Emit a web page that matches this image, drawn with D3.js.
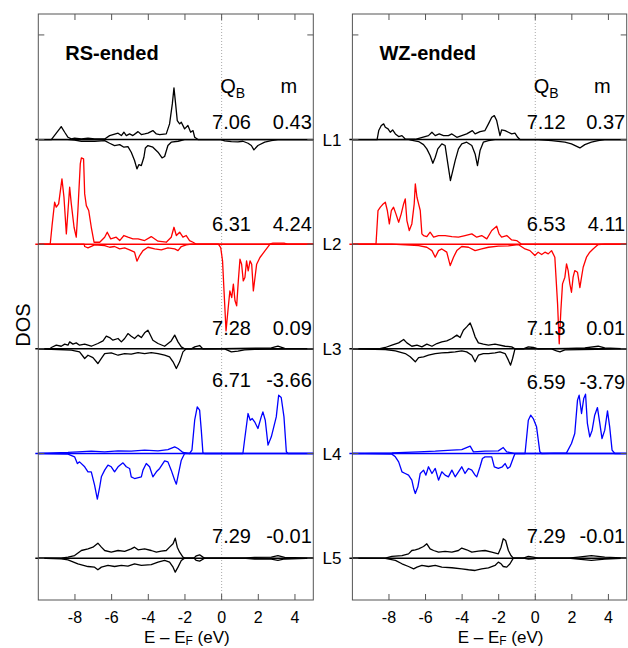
<!DOCTYPE html>
<html><head><meta charset="utf-8">
<script src="https://cdn.jsdelivr.net/npm/d3@7"></script>
<style>body{margin:0;background:#fff} text{font-family:"Liberation Sans",Arial,Helvetica,sans-serif;fill:#000}</style>
</head><body><svg id="c" width="628" height="648"></svg>
<script>
// ---------------- data ----------------
const layers = ["L1","L2","L3","L4","L5"];
const xTicks = [-8,-6,-4,-2,0,2,4];
const yTicks = [0,10,20,30,40,50];
const rsQB = ["7.06","6.31","7.28","6.71","7.29"];
const rsM  = ["0.43","4.24","0.09","-3.66","-0.01"];
const wzQB = ["7.12","6.53","7.13","6.59","7.29"];
const wzM  = ["0.37","4.11","0.01","-3.79","-0.01"];

// RS-ended, [E (eV), DOS] pairs, spin up (>0) and spin down (<0)
const rsL1Up = [[-10,0],[-9.29,0],[-8.84,1.02],[-8.75,1.24],[-8.56,0.7],[-8.38,0.22],[-8.2,0.06],[-8.02,0.13],[-7.65,0.06],[-7.29,0.13],[-6.93,0.06],[-6.38,0.06],[-6.11,0.38],[-5.65,0.61],[-5.47,0.38],[-5.33,0.7],[-5.2,0.38],[-5.02,0.54],[-4.84,0.38],[-4.56,0.76],[-4.38,0.48],[-4.2,0.54],[-4.02,0.61],[-3.75,0.86],[-3.56,0.54],[-3.38,0.48],[-3.02,0.54],[-2.84,1.5],[-2.69,3.41],[-2.6,4.94],[-2.51,3.41],[-2.42,1.82],[-2.29,1.5],[-2.2,1.66],[-2.02,1.02],[-1.84,1.34],[-1.69,0.7],[-1.56,0.86],[-1.47,0.22],[-1.29,0],[5,0]];
const rsL1Dn = [[-10,0],[-8.4,0],[-8.02,-0.06],[-7.65,-0.16],[-6.93,-0.16],[-6.38,-0.1],[-6.11,-0.35],[-5.84,-0.57],[-5.56,-0.48],[-5.33,-0.73],[-5.11,-0.67],[-4.93,-1.21],[-4.75,-2.0],[-4.62,-2.8],[-4.51,-2.39],[-4.38,-2.48],[-4.24,-1.69],[-4.16,-0.8],[-4.02,-0.57],[-3.75,-0.73],[-3.47,-1.21],[-3.25,-1.75],[-3.11,-1.62],[-2.93,-0.57],[-2.75,-0.25],[-2.38,-0.16],[-2.02,0],[-0.02,0],[0.16,-0.13],[0.53,-0.19],[0.89,-0.22],[1.16,-0.16],[1.44,-0.35],[1.62,-0.57],[1.76,-0.99],[1.98,-0.57],[2.35,-0.25],[2.71,-0.1],[3.07,0],[5,0]];
const rsL2Up = [[-10,0],[-9.35,0],[-9.25,1.78],[-9.11,4.01],[-9.02,3.54],[-8.89,3.85],[-8.71,6.24],[-8.6,4.49],[-8.47,0.99],[-8.38,3.22],[-8.29,5.45],[-8.2,3.85],[-8.05,1.62],[-7.93,0.67],[-7.84,3.22],[-7.71,7.68],[-7.65,8.25],[-7.53,8.15],[-7.47,4.81],[-7.38,3.69],[-7.25,3.22],[-7.11,1.62],[-6.96,0.19],[-6.65,0.19],[-6.38,0.67],[-6.24,1.15],[-6.05,0.51],[-5.75,0.67],[-5.56,0.35],[-5.33,0.83],[-5.11,0.67],[-4.84,0.51],[-4.56,0.51],[-4.2,0.35],[-3.84,0.73],[-3.47,0.29],[-3.02,0.19],[-2.75,0.67],[-2.6,1.62],[-2.47,0.83],[-2.29,1.15],[-2.11,0.67],[-1.93,0.83],[-1.75,0.35],[-1.56,0.19],[-1.38,0],[2.6,0],[2.8,0.1],[3.4,0.1],[3.6,0],[5,0]];
const rsL2Dn = [[-10,0],[-7.5,0],[-7.47,-0.22],[-7.29,-0.35],[-6.93,-0.06],[-6.38,-0.13],[-6.11,-0.29],[-5.84,-0.22],[-5.56,-0.45],[-5.29,-0.35],[-5.02,-0.54],[-4.75,-0.76],[-4.62,-1.62],[-4.47,-1.08],[-4.29,-0.61],[-4.02,-0.29],[-3.65,-0.45],[-3.29,-0.54],[-2.93,-0.35],[-2.56,-0.45],[-2.38,-0.61],[-2.2,-0.22],[-1.93,-0.06],[-1.65,0],[-0.18,0],[-0.05,-0.32],[0.05,-1.59],[0.13,-4.46],[0.24,-8.28],[0.36,-6.05],[0.45,-4.46],[0.55,-5.1],[0.64,-3.82],[0.73,-5.41],[0.82,-5.89],[0.91,-3.5],[1.0,-1.43],[1.09,-1.91],[1.18,-3.5],[1.27,-3.18],[1.36,-1.59],[1.45,-2.55],[1.55,-1.59],[1.64,-1.91],[1.73,-4.46],[1.82,-3.18],[1.91,-1.91],[2.09,-1.27],[2.36,-0.64],[2.64,0],[5,0]];
const rsL3Up = [[-10,0],[-9.35,0],[-9.29,0.13],[-9.02,0.35],[-8.75,0.25],[-8.56,0.45],[-8.38,0.35],[-8.29,0.67],[-8.11,0.45],[-7.93,0.57],[-7.75,0.35],[-7.47,0.45],[-7.11,0.25],[-6.75,0.51],[-6.47,0.76],[-6.29,1.21],[-6.11,1.08],[-5.93,0.83],[-5.65,0.99],[-5.47,0.67],[-5.29,0.99],[-5.11,1.46],[-4.93,1.21],[-4.75,0.99],[-4.56,1.31],[-4.38,1.08],[-4.2,1.53],[-4.02,1.78],[-3.93,1.46],[-3.75,0.83],[-3.47,0.51],[-3.11,0.25],[-2.75,0.76],[-2.56,1.31],[-2.38,0.67],[-2.2,0.19],[-2.02,0],[-1.65,0],[-1.47,0.19],[-1.2,0.32],[-1.02,0],[0.89,0.05],[2.71,0.1],[3.07,0.25],[3.44,0.05],[5,0]];
const rsL3Dn = [[-10,0],[-8.93,-0.06],[-8.2,-0.13],[-7.75,-0.29],[-7.47,-0.92],[-7.29,-0.61],[-7.02,-0.83],[-6.75,-1.4],[-6.56,-0.92],[-6.38,-0.45],[-6.02,-0.38],[-5.65,-0.61],[-5.29,-0.45],[-4.93,-0.51],[-4.56,-0.35],[-4.2,-0.45],[-3.84,-0.35],[-3.47,-0.45],[-3.11,-0.61],[-2.84,-0.76],[-2.65,-1.24],[-2.47,-1.88],[-2.29,-1.24],[-2.11,-0.29],[-1.93,0],[0.16,0],[0.53,-0.29],[0.89,-0.22],[1.25,-0.1],[1.8,-0.05],[5,0]];
const rsL4Up = [[-10,0],[-8.38,0.1],[-7.84,0.16],[-7.11,0.22],[-6.38,0.16],[-5.65,0.25],[-4.93,0.22],[-4.2,0.32],[-3.47,0.25],[-2.93,0.38],[-2.56,0.64],[-2.38,0.48],[-2.11,0.1],[-1.75,0],[-1.62,0.32],[-1.47,3.18],[-1.33,4.46],[-1.2,4.14],[-1.11,2.23],[-1.02,0.06],[-0.93,0],[1.16,0],[1.25,1.27],[1.44,3.82],[1.56,3.18],[1.67,3.34],[1.8,3.03],[1.98,2.39],[2.16,3.5],[2.25,3.98],[2.38,3.18],[2.53,0.8],[2.71,1.59],[2.98,3.5],[3.11,5.57],[3.25,5.35],[3.4,3.5],[3.53,0.16],[3.62,0],[5,0]];
const rsL4Dn = [[-10,0],[-8.38,-0.06],[-8.02,-0.32],[-7.87,-0.96],[-7.75,-0.8],[-7.47,-1.27],[-7.29,-1.75],[-7.11,-1.75],[-6.93,-3.03],[-6.78,-4.36],[-6.65,-3.18],[-6.56,-2.23],[-6.38,-1.59],[-6.2,-1.11],[-6.02,-1.27],[-5.84,-1.75],[-5.65,-1.27],[-5.38,-0.89],[-5.2,-1.27],[-5.02,-1.43],[-4.93,-2.23],[-4.75,-2.39],[-4.38,-2.23],[-4.29,-1.59],[-4.11,-0.96],[-3.93,-1.27],[-3.75,-2.23],[-3.56,-1.75],[-3.38,-1.43],[-3.11,-0.7],[-2.93,-0.8],[-2.75,-1.59],[-2.56,-2.55],[-2.47,-2.93],[-2.35,-1.91],[-2.2,-0.64],[-2.02,0],[5,0]];
const rsL5Up = [[-10,0],[-8.75,0],[-8.38,0.1],[-8.02,0.25],[-7.65,0.73],[-7.29,0.89],[-7.02,1.05],[-6.75,1.43],[-6.56,1.05],[-6.38,0.73],[-6.02,0.57],[-5.65,0.73],[-5.29,0.64],[-4.93,0.89],[-4.75,1.05],[-4.56,0.8],[-4.2,0.89],[-3.84,0.73],[-3.56,0.57],[-3.29,0.67],[-3.02,0.73],[-2.84,1.05],[-2.65,1.37],[-2.53,1.91],[-2.42,1.05],[-2.29,0.57],[-2.11,0.1],[-2.02,0],[-1.51,0],[-1.38,0.22],[-1.2,0.32],[-1.02,0.1],[-0.93,0],[1.16,0],[1.8,0.08],[2.71,0.1],[3.07,0.25],[3.44,0.08],[5,0]];
const rsL5Dn = [[-10,0],[-8.75,-0.06],[-8.38,-0.16],[-7.84,-0.54],[-7.29,-0.8],[-6.93,-0.86],[-6.75,-1.11],[-6.56,-0.86],[-6.2,-0.7],[-5.84,-0.8],[-5.47,-0.7],[-5.11,-0.76],[-4.75,-0.54],[-4.38,-0.7],[-3.84,-0.61],[-3.47,-0.38],[-3.11,-0.22],[-2.84,-0.38],[-2.65,-0.86],[-2.53,-1.34],[-2.38,-0.86],[-2.2,-0.22],[-2.02,0],[-1.51,0],[-1.38,-0.22],[-1.2,-0.29],[-1.02,-0.1],[-0.93,0],[1.16,0],[1.8,-0.08],[2.71,-0.1],[3.07,-0.22],[3.44,-0.08],[5,0]];

// WZ-ended
const wzL1Up = [[-10,0],[-8.65,0],[-8.56,0.86],[-8.42,1.34],[-8.29,1.5],[-8.2,1.18],[-8.05,1.02],[-7.93,0.7],[-7.8,0.92],[-7.65,0.54],[-7.47,0.29],[-7.29,0.38],[-7.11,0.06],[-6.56,0.03],[-5.84,0.38],[-5.65,0.7],[-5.47,0.38],[-5.25,0.54],[-5.02,0.38],[-4.75,0.38],[-4.56,0.54],[-4.29,0.22],[-4.02,0.38],[-3.75,0.54],[-3.44,0.86],[-3.29,0.54],[-3.02,0.76],[-2.75,0.86],[-2.56,1.5],[-2.38,2.13],[-2.24,2.29],[-2.11,1.82],[-1.93,0.38],[-1.84,0.92],[-1.65,0.86],[-1.47,0.7],[-1.29,0.54],[-1.11,0.61],[-0.96,0.22],[-0.84,0],[5,0]];
const wzL1Dn = [[-10,0],[-6.93,0],[-6.38,-0.19],[-6.11,-0.48],[-5.93,-0.89],[-5.75,-1.53],[-5.6,-2.26],[-5.47,-1.69],[-5.33,-0.89],[-5.11,-0.41],[-4.93,-0.57],[-4.78,-2.32],[-4.64,-3.92],[-4.51,-2.96],[-4.38,-2.01],[-4.2,-0.89],[-4.02,-0.41],[-3.75,-0.25],[-3.47,-0.57],[-3.29,-1.37],[-3.16,-2.48],[-3.02,-1.05],[-2.84,-0.25],[-2.56,-0.1],[-2.2,0],[0.16,0],[0.89,-0.1],[1.62,-0.25],[1.98,-0.41],[2.44,-0.8],[2.71,-0.48],[3.07,-0.25],[3.44,-0.1],[3.8,0],[5,0]];
const wzL2Up = [[-10,0],[-8.71,0],[-8.6,3.22],[-8.47,3.54],[-8.35,3.79],[-8.2,4.01],[-8.09,3.22],[-7.98,1.94],[-7.87,3.22],[-7.75,3.54],[-7.62,2.9],[-7.47,2.1],[-7.33,2.9],[-7.2,3.85],[-7.11,4.33],[-7.02,2.26],[-6.89,1.31],[-6.75,1.94],[-6.62,3.85],[-6.56,5.76],[-6.47,4.49],[-6.38,3.85],[-6.29,3.22],[-6.2,0.99],[-6.11,0.83],[-5.93,0.73],[-5.75,1.15],[-5.56,0.67],[-5.29,0.83],[-4.93,0.83],[-4.56,0.73],[-4.2,0.67],[-3.84,0.83],[-3.47,0.99],[-3.2,0.67],[-2.93,0.83],[-2.65,0.51],[-2.38,1.31],[-2.11,1.72],[-1.98,0.99],[-1.84,0.67],[-1.56,0.83],[-1.29,0.41],[-1.02,0.35],[-0.75,0],[5,0]];
const wzL2Dn = [[-10,0],[-7.84,0],[-6.38,-0.13],[-5.93,-0.29],[-5.65,-0.61],[-5.47,-1.24],[-5.29,-0.61],[-5.11,-0.45],[-4.84,-0.76],[-4.65,-2.04],[-4.47,-1.24],[-4.29,-0.61],[-4.02,-0.22],[-3.65,-0.29],[-3.29,-0.61],[-2.93,-0.45],[-2.56,-0.29],[-2.02,-0.19],[-1.47,-0.16],[-0.93,-0.03],[-0.56,-0.45],[-0.29,-0.61],[-0.02,-1.08],[0.16,-0.76],[0.35,-0.99],[0.53,-0.76],[0.71,-0.92],[0.89,-0.61],[1.07,-1.24],[1.22,-5.7],[1.31,-9.52],[1.4,-6.34],[1.49,-3.79],[1.62,-3.15],[1.71,-1.88],[1.8,-2.52],[1.89,-3.79],[1.98,-4.59],[2.07,-3.15],[2.16,-2.52],[2.31,-2.68],[2.44,-4.14],[2.53,-3.15],[2.62,-2.2],[2.8,-1.24],[2.98,-0.76],[3.16,-0.45],[3.44,-0.03],[3.8,0],[5,0]];
const wzL3Up = [[-10,0],[-8.56,0],[-8.2,0.13],[-7.84,0.35],[-7.47,0.57],[-7.2,0.89],[-7.02,0.57],[-6.75,0.25],[-6.47,0.35],[-6.2,0.19],[-5.93,0.45],[-5.65,0.25],[-5.38,0.51],[-5.11,0.67],[-4.84,0.76],[-4.56,0.99],[-4.29,1.31],[-4.11,1.08],[-3.93,1.78],[-3.75,2.1],[-3.56,2.48],[-3.44,1.94],[-3.29,1.15],[-3.11,0.57],[-2.84,0.45],[-2.56,0.35],[-2.2,0.45],[-1.65,0.25],[-1.29,0.19],[-1.11,0],[-0.65,0],[-0.38,0.19],[-0.11,0.13],[0.16,0],[1.8,0.05],[2.71,0.1],[3.44,0.25],[3.8,0.1],[5,0]];
const wzL3Dn = [[-10,0],[-8.2,-0.06],[-7.65,-0.19],[-7.11,-0.45],[-6.84,-0.76],[-6.56,-1.24],[-6.38,-0.83],[-6.11,-0.76],[-5.84,-0.61],[-5.47,-0.45],[-5.11,-0.38],[-4.75,-0.35],[-4.38,-0.29],[-4.02,-0.19],[-3.75,-0.29],[-3.47,-0.61],[-3.29,-1.24],[-3.11,-0.61],[-2.84,-0.45],[-2.56,-0.45],[-2.2,-0.38],[-1.93,-0.29],[-1.65,-0.45],[-1.47,-1.08],[-1.35,-1.56],[-1.24,-0.92],[-1.11,0],[0.89,0],[1.16,-0.19],[1.35,-0.29],[1.62,-0.1],[5,0]];
const wzL4Up = [[-10,0],[-7.84,0.06],[-6.38,0.16],[-5.47,0.22],[-4.56,0.32],[-4.02,0.38],[-3.56,0.7],[-3.38,0.16],[-2.75,0.22],[-2.02,0.25],[-1.75,0.57],[-1.56,0.16],[-1.11,0],[-0.56,0],[-0.38,3.18],[-0.25,3.66],[-0.11,3.34],[0.07,2.55],[0.25,0.16],[0.35,0],[1.71,0.06],[1.98,0.96],[2.16,1.91],[2.31,5.1],[2.4,5.57],[2.53,3.82],[2.65,5.25],[2.75,5.67],[2.85,2.87],[2.98,1.59],[3.11,2.23],[3.25,3.66],[3.4,4.39],[3.53,2.87],[3.65,1.43],[3.8,2.23],[3.95,4.08],[4.07,2.55],[4.2,0.32],[4.35,0],[5,0]];
const wzL4Dn = [[-10,0],[-7.84,-0.06],[-7.65,-0.32],[-7.47,-0.8],[-7.29,-1.75],[-7.11,-1.91],[-6.93,-2.07],[-6.75,-2.55],[-6.65,-3.34],[-6.56,-3.82],[-6.42,-3.18],[-6.29,-1.91],[-6.11,-1.59],[-5.98,-2.07],[-5.84,-1.27],[-5.65,-1.91],[-5.47,-1.43],[-5.29,-2.55],[-5.11,-1.75],[-4.93,-2.07],[-4.75,-2.23],[-4.56,-1.59],[-4.38,-2.23],[-4.2,-1.75],[-4.02,-1.27],[-3.84,-1.91],[-3.65,-1.43],[-3.47,-1.59],[-3.29,-2.07],[-3.2,-2.23],[-3.02,-1.27],[-2.89,-0.48],[-2.75,-0.32],[-2.38,-0.32],[-2.24,-1.27],[-2.02,-1.43],[-1.8,-1.27],[-1.65,-0.96],[-1.51,-1.43],[-1.38,-1.27],[-1.25,-0.64],[-1.11,0],[5,0]];
const wzL5Up = [[-10,0],[-8.2,0],[-7.84,0.16],[-7.29,0.25],[-6.93,0.41],[-6.75,0.73],[-6.56,0.8],[-6.38,0.89],[-6.11,1.11],[-5.93,1.37],[-5.75,0.89],[-5.56,0.73],[-5.29,0.57],[-4.93,0.64],[-4.56,0.57],[-4.2,0.73],[-4.02,0.96],[-3.75,0.8],[-3.47,0.57],[-3.11,0.67],[-2.75,0.73],[-2.38,0.57],[-2.02,0.41],[-1.87,1.05],[-1.75,1.85],[-1.62,1.69],[-1.47,0.73],[-1.33,0.25],[-1.2,0],[-0.65,0],[-0.38,0.16],[-0.11,0.1],[0.16,0],[1.8,0],[2.35,0.1],[3.07,0.25],[3.8,0.1],[5,0]];
const wzL5Dn = [[-10,0],[-8.2,-0.03],[-7.65,-0.22],[-7.29,-0.54],[-6.93,-0.8],[-6.65,-1.02],[-6.47,-0.86],[-6.2,-0.7],[-5.84,-0.8],[-5.47,-0.7],[-5.11,-0.86],[-4.56,-0.92],[-4.02,-1.02],[-3.65,-1.11],[-3.29,-1.18],[-2.93,-1.02],[-2.56,-0.92],[-2.2,-0.7],[-2.02,-0.38],[-1.87,-0.54],[-1.75,-0.8],[-1.56,-0.86],[-1.38,-0.54],[-1.2,0],[-0.65,0],[-0.38,-0.1],[-0.11,-0.06],[0.16,0],[1.8,0],[2.35,-0.1],[3.07,-0.22],[3.8,-0.1],[5,0]];

// ---------------- layout / style ----------------
const layerColors = ["#000000","#ff0000","#000000","#0000ff","#000000"];
const layerSpacing = 10;              // DOS units between stacked layers
const valueLift = [10.5, 13.5, 13.5, 67, 15]; // px above baseline for Q_B / m numbers
const panels = [
  {title:"RS-ended", x0:38.3, x1:313.3, up:[rsL1Up,rsL2Up,rsL3Up,rsL4Up,rsL5Up], dn:[rsL1Dn,rsL2Dn,rsL3Dn,rsL4Dn,rsL5Dn], q:rsQB, m:rsM, qx:-9.6, lift4:67},
  {title:"WZ-ended", x0:352.4, x1:626.7, up:[wzL1Up,wzL2Up,wzL3Up,wzL4Up,wzL5Up], dn:[wzL1Dn,wzL2Dn,wzL3Dn,wzL4Dn,wzL5Dn], q:wzQB, m:wzM, qx:-8.6, lift4:65}
];
const plotTop = 14, plotBottom = 600;
const FONT = '"Liberation Sans",Arial,Helvetica,sans-serif';

const svg = d3.select("#c");
const y = d3.scaleLinear().domain([-4, 52]).range([plotBottom, plotTop]);
const offset = i => (layers.length - 1 - i) * layerSpacing;

panels.forEach((p, pi) => {
  const x = d3.scaleLinear().domain([-10, 5]).range([p.x0, p.x1]);
  const g = svg.append("g");

  // zero line (Fermi level)
  g.append("line").attr("x1", x(0)).attr("x2", x(0)).attr("y1", plotTop).attr("y2", plotBottom)
    .attr("stroke", "#aaa").attr("stroke-width", 1).attr("stroke-dasharray", "1,2");

  // layers
  layers.forEach((L, i) => {
    const off = offset(i);
    const col = layerColors[i];
    const line = d3.line().x(d => x(d[0])).y(d => y(d[1] + off));
    g.append("line").attr("x1", p.x0 - 3).attr("x2", p.x1).attr("y1", y(off)).attr("y2", y(off))
      .attr("stroke", col).attr("stroke-width", 1.5);
    g.append("path").datum(p.dn[i]).attr("d", line).attr("fill", "none")
      .attr("stroke", col).attr("stroke-width", 1.3).attr("stroke-linejoin", "round");
    g.append("path").datum(p.up[i]).attr("d", line).attr("fill", "none")
      .attr("stroke", col).attr("stroke-width", 1.3).attr("stroke-linejoin", "round");

    const lift = i === 3 ? p.lift4 : valueLift[i];
    g.append("text").attr("x", x(0) + p.qx).attr("y", y(off) - lift)
      .attr("font-size", 20).attr("font-family", FONT).text(p.q[i]);
    g.append("text").attr("x", p.x1 - 1.5).attr("y", y(off) - lift)
      .attr("text-anchor", "end").attr("font-size", 20).attr("font-family", FONT).text(p.m[i]);
  });

  // frame
  g.append("rect").attr("x", p.x0).attr("y", plotTop).attr("width", p.x1 - p.x0).attr("height", plotBottom - plotTop)
    .attr("fill", "none").attr("stroke", "#555").attr("stroke-width", 1);

  // x ticks (inside, top and bottom)
  xTicks.forEach(t => {
    g.append("line").attr("x1", x(t)).attr("x2", x(t)).attr("y1", plotBottom).attr("y2", plotBottom - 6).attr("stroke", "#555");
    g.append("line").attr("x1", x(t)).attr("x2", x(t)).attr("y1", plotTop).attr("y2", plotTop + 6).attr("stroke", "#555");
    g.append("text").attr("x", x(t)).attr("y", 623).attr("text-anchor", "middle")
      .attr("font-size", 16).attr("font-family", FONT).text(t);
  });
  // y ticks (inside, both sides)
  yTicks.forEach(t => {
    g.append("line").attr("x1", p.x0).attr("x2", p.x0 + 6).attr("y1", y(t)).attr("y2", y(t)).attr("stroke", "#555");
    g.append("line").attr("x1", p.x1).attr("x2", p.x1 - 6).attr("y1", y(t)).attr("y2", y(t)).attr("stroke", "#555");
  });

  // title
  g.append("text").attr("x", p.x0 + 27).attr("y", 60).attr("font-size", 20).attr("font-weight", "bold")
    .attr("font-family", FONT).text(p.title);

  // column headers
  const qh = g.append("text").attr("x", x(0) - 1.5).attr("y", 93).attr("font-size", 20).attr("font-family", FONT);
  qh.append("tspan").text("Q");
  qh.append("tspan").attr("font-size", 14).attr("dy", 5).text("B");
  g.append("text").attr("x", x(3.67)).attr("y", 93).attr("text-anchor", "middle").attr("font-size", 20)
    .attr("font-family", FONT).text("m");

  // x axis title
  const xt = g.append("text").attr("x", (p.x0 + p.x1) / 2 + 11).attr("y", 643).attr("text-anchor", "middle")
    .attr("font-size", 17).attr("font-family", FONT);
  xt.append("tspan").text("E \u2013 E");
  xt.append("tspan").attr("font-size", 12).attr("dy", 2).text("F");
  xt.append("tspan").attr("dy", -2).text(" (eV)");
});

// layer labels between panels
layers.forEach((L, i) => {
  svg.append("text").attr("x", 332).attr("y", y(offset(i)) + 6).attr("text-anchor", "middle")
    .attr("font-size", 17).attr("font-family", FONT).text(L);
});

// y axis title
svg.append("text").attr("transform", "translate(30,325) rotate(-90)").attr("text-anchor", "middle")
  .attr("font-size", 20).attr("font-family", FONT).text("DOS");
</script>
</body></html>
